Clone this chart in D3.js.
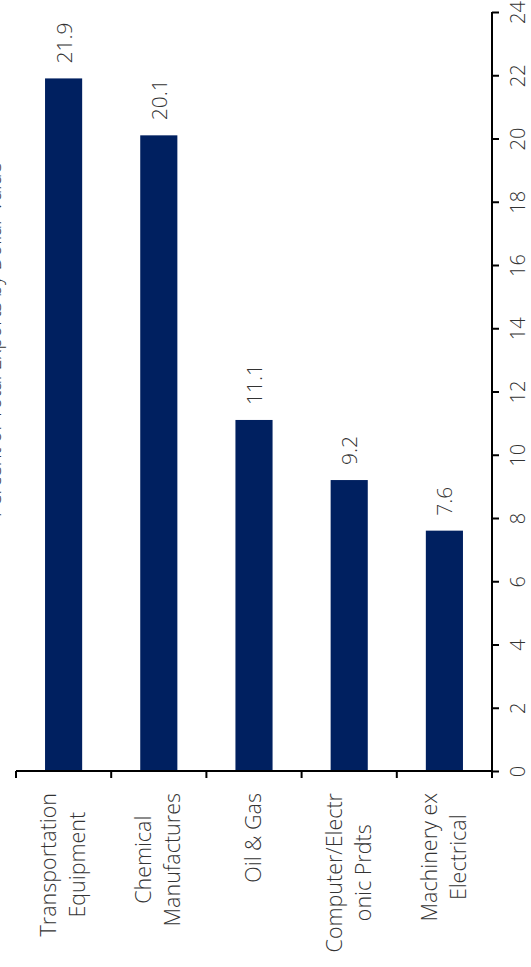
<!DOCTYPE html>
<html>
<head>
<meta charset="utf-8">
<script src="https://cdn.jsdelivr.net/npm/d3@7"></script>
<style>
  html, body { margin: 0; padding: 0; background: #fff; }
  svg { display: block; }
  text { font-family: "Open Sans", "Noto Sans", sans-serif; font-weight: 300; fill: #333; }
</style>
</head>
<body>
<svg id="chart" width="531" height="967"></svg>
<script>
const categories = [
  ["Transportation", "Equipment"],
  ["Chemical", "Manufactures"],
  ["Oil & Gas"],
  ["Computer/Electr", "onic Prdts"],
  ["Machinery ex", "Electrical"]
];
const values = [21.9, 20.1, 11.1, 9.2, 7.6];
const valueLabels = ["21.9", "20.1", "11.1", "9.2", "7.6"];
const tickValues = [0, 2, 4, 6, 8, 10, 12, 14, 16, 18, 20, 22, 24];
const axisTitle = "Percent of Total Exports by Dollar Value";

const svg = d3.select("#chart");

// Chart is drawn rotated: categories run left→right, values run bottom→top,
// value axis sits on the right.
const x = d3.scaleBand().domain(d3.range(categories.length)).range([16, 492]).paddingInner(0.61).paddingOuter(0.305);
const xEdges = d3.scaleLinear().domain([0, categories.length]).range([16, 492]);
const y = d3.scaleLinear().domain([0, 24]).range([771, 12]);

// bars
svg.append("g").selectAll("rect").data(values).join("rect")
  .attr("x", (d, i) => x(i))
  .attr("width", x.bandwidth())
  .attr("y", d => y(d))
  .attr("height", d => y(0) - y(d))
  .attr("fill", "#002060");

// value labels
svg.append("g").selectAll("text").data(values).join("text")
  .attr("transform", (d, i) => `translate(${x(i) + x.bandwidth() / 2 + 8},${y(d) - 15}) rotate(-90)`)
  .attr("text-anchor", "start")
  .style("font-size", "21px")
  .text((d, i) => valueLabels[i]);

// value axis (right)
const yAxis = d3.axisRight(y).tickValues(tickValues).tickSize(7).tickFormat(d3.format("d"));
const gy = svg.append("g").attr("transform", "translate(492,0)").call(yAxis);
gy.select(".domain").attr("stroke", "#000").attr("stroke-width", 2).attr("d", `M0,${y(24)}V${y(0) + 1}`);
gy.selectAll(".tick line").attr("stroke", "#000").attr("stroke-width", 2);
gy.selectAll(".tick text")
  .attr("x", null).attr("dy", null)
  .attr("transform", "translate(33,0) rotate(-90)")
  .attr("text-anchor", "middle")
  .style("font-size", "20px")
  .style("font-family", "\"Open Sans\", sans-serif")
  .style("font-weight", 300)
  .style("fill", "#333");

// category axis (bottom)
const gx = svg.append("g");
gx.append("line")
  .attr("x1", xEdges(0)).attr("x2", xEdges(categories.length))
  .attr("y1", y(0)).attr("y2", y(0))
  .attr("stroke", "#000").attr("stroke-width", 2);
gx.selectAll("line.tk").data(d3.range(categories.length + 1)).join("line")
  .attr("class", "tk")
  .attr("x1", d => xEdges(d)).attr("x2", d => xEdges(d))
  .attr("y1", y(0)).attr("y2", y(0) + 7)
  .attr("stroke", "#000").attr("stroke-width", 2);

// category labels (rotated, lines centred in a block that starts below the axis)
const labelTop = 793;
categories.forEach((lines, i) => {
  const cx = x(i) + x.bandwidth() / 2;
  const g = svg.append("g").attr("transform", `translate(${cx},0) rotate(-90)`);
  const n = lines.length;
  const texts = lines.map((s, k) => g.append("text")
    .attr("text-anchor", "middle")
    .attr("y", 7 + (k - (n - 1) / 2) * 29)
    .style("font-size", "21.5px")
    .text(s));
  const maxW = d3.max(texts, t => t.node().getComputedTextLength());
  texts.forEach(t => t.attr("x", -(labelTop + maxW / 2)));
});

// axis title (mostly clipped at the left edge, as in the source)
svg.append("text")
  .attr("transform", "translate(1,340) rotate(-90)")
  .attr("text-anchor", "middle")
  .style("font-size", "20px")
  .text(axisTitle);
</script>
</body>
</html>
